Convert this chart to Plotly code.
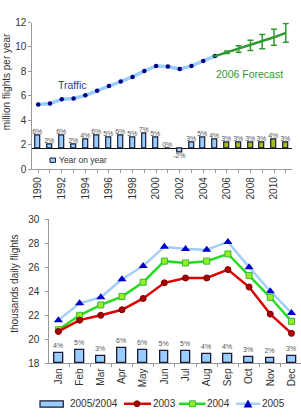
import plotly.graph_objects as go

# ---------------- data ----------------
years = list(range(1990, 2012))
hist_years = list(range(1990, 2006))
traffic = [5.30, 5.38, 5.72, 5.78, 6.04, 6.41, 6.81, 7.18, 7.55, 8.03,
           8.45, 8.40, 8.19, 8.45, 8.85, 9.25]
fc_years = list(range(2005, 2012))
forecast = [9.25, 9.56, 9.83, 10.12, 10.44, 10.79, 11.15]
fc_err = [0, 0.10, 0.27, 0.42, 0.58, 0.66, 0.77]
yoy = [6, 2, 6, 2, 4, 6, 5, 6, 5, 7, 5, 0, -2, 3, 5, 4, 3, 3, 3, 3, 4, 3]
year_ticks = list(range(1990, 2011, 2))

months = ["Jan", "Feb", "Mar", "Apr", "May", "Jun", "Jul", "Aug", "Sep", "Oct", "Nov", "Dec"]
y2003 = [20.66, 21.6, 22.0, 22.46, 23.4, 24.7, 25.1, 25.1, 25.8, 24.35, 22.1, 20.5]
y2004 = [20.8, 22.0, 22.86, 23.56, 24.75, 26.5, 26.35, 26.5, 27.1, 25.3, 23.5, 21.5]
y2005 = [21.6, 23.0, 23.5, 25.0, 26.1, 27.7, 27.5, 27.45, 28.1, 26.0, 24.0, 22.2]
growth = [4.0, 5.2, 2.8, 6.0, 5.5, 4.9, 4.9, 3.6, 3.8, 2.6, 2.1, 2.8]
growth_labels = ["4%", "5%", "3%", "6%", "6%", "5%", "5%", "4%", "4%", "3%", "2%", "3%"]

# ---------------- styling ----------------
FONT = "Liberation Sans, Arial, sans-serif"
W, H = 301, 419
def px(x): return x / W
def py(y): return 1 - y / H

LIGHTBLUE = "#99ccff"
OUTLINE = "#1a1a33"
FC_GREEN = "#2f9a2f"
bar_colors = [LIGHTBLUE if y <= 2005 else "#a3bf1f" for y in years]

fig = go.Figure()

# top: year-on-year bars
fig.add_trace(go.Bar(
    x=years, y=yoy, text=[f"{v}%" for v in yoy], textposition="outside",
    textfont=dict(size=7, color="#555", family=FONT), constraintext="none",
    marker=dict(color=bar_colors, line=dict(color=OUTLINE, width=1.2)),
    width=0.42, xaxis="x", yaxis="y2", cliponaxis=False, showlegend=False))

# top: traffic line
fig.add_trace(go.Scatter(
    x=hist_years, y=traffic, mode="lines+markers",
    line=dict(color=LIGHTBLUE, width=3.5),
    marker=dict(color="#000080", size=4.5),
    xaxis="x", yaxis="y", showlegend=False))

# top: forecast
fig.add_trace(go.Scatter(
    x=fc_years, y=forecast, mode="lines",
    line=dict(color=FC_GREEN, width=2.5),
    error_y=dict(type="data", array=fc_err, color=FC_GREEN, thickness=1.5, width=3),
    xaxis="x", yaxis="y", showlegend=False))

# bottom: growth bars
fig.add_trace(go.Bar(
    x=months, y=growth, text=growth_labels, textposition="outside",
    textfont=dict(size=7, color="#555", family=FONT), constraintext="none",
    marker=dict(color=LIGHTBLUE, line=dict(color=OUTLINE, width=1.3)),
    width=0.42, xaxis="x3", yaxis="y4", cliponaxis=False, showlegend=False))

# bottom: lines
fig.add_trace(go.Scatter(
    x=months, y=y2005, mode="lines+markers",
    line=dict(color="#a3cff7", width=2.5),
    marker=dict(symbol="triangle-up", color="#0000cc", size=8),
    xaxis="x3", yaxis="y3", showlegend=False, cliponaxis=False))
fig.add_trace(go.Scatter(
    x=months, y=y2004, mode="lines+markers",
    line=dict(color="#22dd22", width=2.5),
    marker=dict(symbol="square", color="#99ee22", size=6, line=dict(color="#33bb33", width=1)),
    xaxis="x3", yaxis="y3", showlegend=False, cliponaxis=False))
fig.add_trace(go.Scatter(
    x=months, y=y2003, mode="lines+markers",
    line=dict(color="#dd0000", width=2.5),
    marker=dict(symbol="circle", color="#aa0000", size=6, line=dict(color="#770000", width=1)),
    xaxis="x3", yaxis="y3", showlegend=False, cliponaxis=False))

tickfont = dict(size=10, color="#333", family=FONT)
axcommon = dict(showgrid=False, zeroline=False, showline=True, linecolor="#999",
                linewidth=1, ticks="outside", ticklen=3, tickcolor="#999",
                tickfont=tickfont)

fig.update_layout(
    width=W, height=H, margin=dict(l=0, r=0, t=0, b=0),
    paper_bgcolor="white", plot_bgcolor="white",
    font=dict(family=FONT, color="#333"),
    showlegend=False, bargap=0,
    xaxis=dict(domain=[px(32.3), px(291.7)], range=[1989.5, 2011.5], anchor="y",
               tickvals=year_ticks, ticktext=[str(v) for v in year_ticks],
               tickangle=-90,
               minor=dict(ticks="outside", dtick=1, ticklen=3, tickcolor="#999"),
               **axcommon),
    yaxis=dict(domain=[py(168), py(17)], range=[0, 12], dtick=2, anchor="x",
               **axcommon),
    yaxis2=dict(overlaying="y", anchor="x", range=[-9.7, 59], showticklabels=False,
                showgrid=False, showline=False, ticks="", zeroline=True,
                zerolinecolor="#111", zerolinewidth=1.3),
    xaxis3=dict(domain=[px(49.3), 1.0], range=[-0.43, 11.45], anchor="y3",
                type="category", tickangle=-90, tickson="boundaries",
                **axcommon),
    yaxis3=dict(domain=[py(368), py(219.3)], range=[18, 30], dtick=2, anchor="x3",
                ticklabelstandoff=4, **axcommon),
    yaxis4=dict(overlaying="y3", anchor="x3", range=[0, 57.2], showticklabels=False,
                showgrid=False, showline=False, ticks="", zeroline=False),
)

annotations = [
    dict(text="million flights per year", x=px(6.5), y=py(78), xref="paper", yref="paper",
         textangle=-90, showarrow=False, font=dict(size=10, color="#333", family=FONT)),
    dict(text="thousands daily flights", x=px(15), y=py(286), xref="paper", yref="paper",
         textangle=-90, showarrow=False, font=dict(size=10, color="#333", family=FONT)),
    dict(text="Traffic", x=1992.9, y=6.92, xref="x", yref="y", showarrow=False,
         font=dict(size=10.5, color="#333399", family=FONT)),
    dict(text="2006 Forecast", x=2007.9, y=7.79, xref="x", yref="y", showarrow=False,
         font=dict(size=10.5, color=FC_GREEN, family=FONT)),
    dict(text="Year on year", x=px(57.5), y=py(158.7), xref="paper", yref="paper",
         xanchor="left", showarrow=False, font=dict(size=8.5, color="#333", family=FONT)),
    dict(text="2005/2004", x=px(69), y=py(409.5), xref="paper", yref="paper",
         xanchor="left", showarrow=False, font=dict(size=10, color="#333", family=FONT)),
    dict(text="2003", x=px(151.5), y=py(409.5), xref="paper", yref="paper",
         xanchor="left", showarrow=False, font=dict(size=10, color="#333", family=FONT)),
    dict(text="2004", x=px(206), y=py(409.5), xref="paper", yref="paper",
         xanchor="left", showarrow=False, font=dict(size=10, color="#333", family=FONT)),
    dict(text="2005", x=px(260.5), y=py(409.5), xref="paper", yref="paper",
         xanchor="left", showarrow=False, font=dict(size=10, color="#333", family=FONT)),
]
for a in annotations:
    a.setdefault("xanchor", "center")
    a["yanchor"] = "middle"
    a["borderpad"] = 0
fig.update_layout(annotations=annotations)

ly = 409.5
shapes = [
    # top legend icon
    dict(type="rect", x0=px(50), x1=px(55.5), y0=py(161), y1=py(156.5),
         fillcolor=LIGHTBLUE, line=dict(color=OUTLINE, width=1)),
    # bottom legend: bar
    dict(type="rect", x0=px(40), x1=px(63.3), y0=py(413), y1=py(406.5),
         fillcolor=LIGHTBLUE, line=dict(color=OUTLINE, width=1.2)),
    # 2003
    dict(type="line", x0=px(124), x1=px(151), y0=py(ly), y1=py(ly),
         line=dict(color="#dd0000", width=2.5)),
    dict(type="circle", x0=px(134), x1=px(140), y0=py(ly + 3), y1=py(ly - 3),
         fillcolor="#aa0000", line=dict(color="#770000", width=1)),
    # 2004
    dict(type="line", x0=px(179), x1=px(205.5), y0=py(ly), y1=py(ly),
         line=dict(color="#22dd22", width=2.5)),
    dict(type="rect", x0=px(189.5), x1=px(195.5), y0=py(ly + 3), y1=py(ly - 3),
         fillcolor="#99ee22", line=dict(color="#33bb33", width=1)),
    # 2005
    dict(type="line", x0=px(236), x1=px(260), y0=py(ly), y1=py(ly),
         line=dict(color="#a3cff7", width=2.5)),
    dict(type="path",
         path=f"M {px(244)},{py(ly + 3.5)} L {px(252)},{py(ly + 3.5)} L {px(248)},{py(ly - 4)} Z",
         fillcolor="#0000cc", line=dict(color="#0000cc", width=0.5)),
]
for s in shapes:
    s["xref"] = "paper"
    s["yref"] = "paper"
fig.update_layout(shapes=shapes)

fig.write_html("out.html")
